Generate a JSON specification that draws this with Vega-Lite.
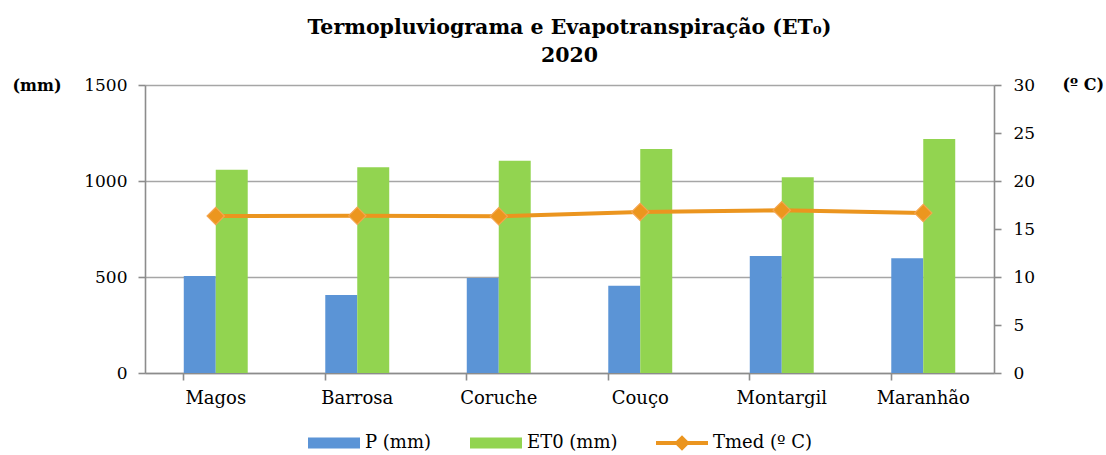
{
  "$schema": "https://vega.github.io/schema/vega-lite/v6.json",
  "autosize": {"type": "none"},
  "padding": {"left": 145, "top": 85, "right": 112, "bottom": 82},
  "width": 849,
  "height": 288,
  "title": {
    "text": ["Termopluviograma e Evapotranspiração (ET₀)", "2020"],
    "font": "DejaVu Serif",
    "fontSize": 20.5,
    "fontWeight": "bold",
    "color": "#000000",
    "anchor": "middle",
    "frame": "group",
    "lineHeight": 28,
    "offset": 10
  },
  "datasets": {
    "estacoes": [
      {"estacao": "Magos", "P (mm)": 505, "ET0 (mm)": 1058, "Tmed": 16.35},
      {"estacao": "Barrosa", "P (mm)": 406, "ET0 (mm)": 1072, "Tmed": 16.37},
      {"estacao": "Coruche", "P (mm)": 495, "ET0 (mm)": 1105, "Tmed": 16.32},
      {"estacao": "Couço", "P (mm)": 455, "ET0 (mm)": 1167, "Tmed": 16.78},
      {"estacao": "Montargil", "P (mm)": 610, "ET0 (mm)": 1019, "Tmed": 16.96},
      {"estacao": "Maranhão", "P (mm)": 598, "ET0 (mm)": 1219, "Tmed": 16.66}
    ]
  },
  "data": {"name": "estacoes"},
  "encoding": {
    "x": {
      "field": "estacao",
      "type": "nominal",
      "sort": null,
      "scale": {"paddingInner": 0.548, "paddingOuter": 0.274},
      "axis": {
        "title": null,
        "labelAngle": 0,
        "bandPosition": 0,
        "labelBound": false,
        "labelPadding": 9,
        "labelFontSize": 18,
        "tickSize": 7,
        "labelOffset": 0
      }
    }
  },
  "layer": [
    {
      "transform": [{"fold": ["P (mm)", "ET0 (mm)"], "as": ["serie", "valor"]}],
      "mark": {"type": "bar"},
      "encoding": {
        "xOffset": {
          "field": "serie",
          "type": "nominal",
          "scale": {"domain": ["P (mm)", "ET0 (mm)"], "paddingInner": 0, "paddingOuter": 0}
        },
        "y": {
          "field": "valor",
          "type": "quantitative",
          "scale": {"domain": [0, 1500], "nice": false},
          "axis": {
            "values": [0, 500, 1000, 1500],
            "format": "d",
            "title": "(mm)",
            "titleAngle": 0,
            "titleAlign": "left",
            "titleBaseline": "middle",
            "titleX": -133,
            "titleY": 0,
            "titleFontSize": 16,
            "titleFontWeight": "bold",
            "grid": true,
            "tickSize": 7,
            "labelPadding": 11
          }
        },
        "color": {
          "field": "serie",
          "type": "nominal",
          "scale": {
            "domain": ["P (mm)", "ET0 (mm)", "Tmed (º C)"],
            "range": ["#5B94D6", "#92D450", "#EB951F"]
          },
          "legend": {
            "title": null,
            "orient": "none",
            "direction": "horizontal",
            "legendX": 163,
            "legendY": 332,
            "symbolSize": 2704,
            "symbolStrokeWidth": 0,
            "labelOffset": 5,
            "columnPadding": 38,
            "labelFont": "DejaVu Serif",
            "labelFontSize": 18,
            "labelLimit": 300,
            "labelColor": "#000000",
            "encode": {
              "symbols": {
                "update": {
                  "shape": {"signal": "datum.value == 'Tmed (º C)' ? 'M-1,-0.08H1V0.08H-1Z M0,-0.3L0.3,0L0,0.3L-0.3,0Z' : 'M-1,-0.21H1V0.21H-1Z'"}
                }
              },
              "labels": {
                "update": {
                  "font": {"value": "DejaVu Serif"},
                  "fontSize": {"value": 18}
                }
              }
            }
          }
        }
      }
    },
    {
      "mark": {
        "type": "line",
        "color": "#EB951F",
        "strokeWidth": 4,
        "point": {"shape": "diamond", "size": 300, "filled": true, "fill": "#EC961E", "stroke": "#F5A550", "strokeWidth": 1.2}
      },
      "encoding": {
        "y": {
          "field": "Tmed",
          "type": "quantitative",
          "scale": {"domain": [0, 30], "nice": false},
          "axis": {
            "orient": "right",
            "values": [0, 5, 10, 15, 20, 25, 30],
            "title": "(º C)",
            "titleAngle": 0,
            "titleAlign": "left",
            "titleBaseline": "middle",
            "titleX": 68,
            "titleY": -1,
            "titleFontSize": 16,
            "titleFontWeight": "bold",
            "grid": false,
            "tickSize": 7,
            "labelPadding": 12
          }
        }
      }
    }
  ],
  "resolve": {"scale": {"y": "independent"}},
  "config": {
    "font": "DejaVu Serif",
    "view": {"stroke": null},
    "axis": {
      "labelFont": "DejaVu Serif",
      "titleFont": "DejaVu Serif",
      "labelFontSize": 17,
      "labelColor": "#000000",
      "titleColor": "#000000",
      "domainColor": "#8C8C8C",
      "domainWidth": 1.6,
      "tickColor": "#8C8C8C",
      "tickWidth": 1.6,
      "gridColor": "#A6A6A6",
      "gridWidth": 1.6
    },
    "legend": {"labelFont": "DejaVu Serif"}
  }
}
